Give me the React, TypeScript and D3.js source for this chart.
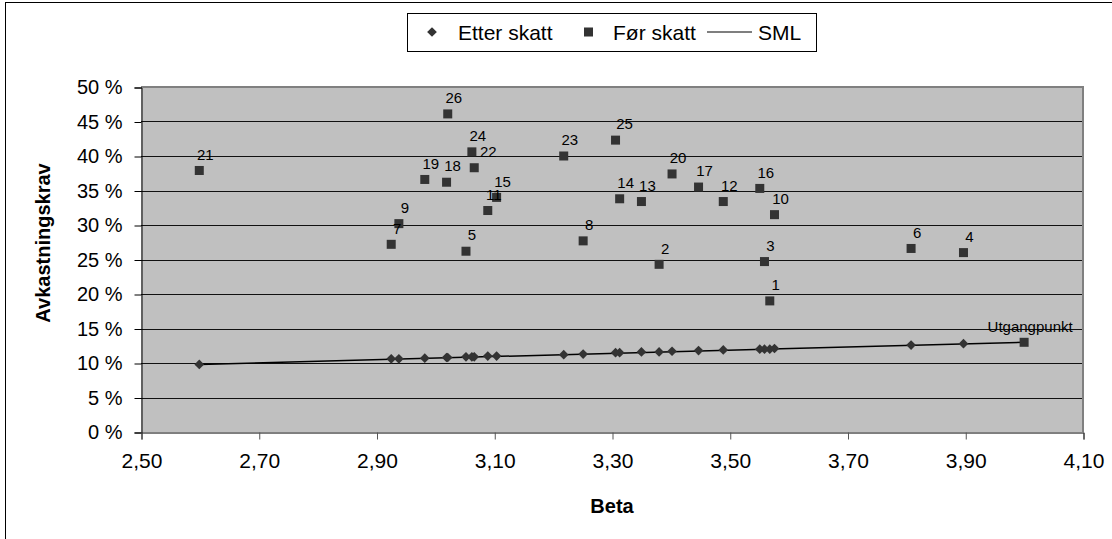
import React, { useEffect, useRef } from "react";
import * as d3 from "d3";

// one entry per project, numbered 1..26
const ids = [
  "1", "2", "3", "4", "5", "6", "7", "8", "9", "10", "11", "12", "13",
  "14", "15", "16", "17", "18", "19", "20", "21", "22", "23", "24", "25", "26",
];
const betas = [
  3.568, 3.38, 3.559, 3.897, 3.052, 3.808, 2.925, 3.251, 2.938, 3.576, 3.089, 3.489, 3.35,
  3.313, 3.104, 3.551, 3.447, 3.019, 2.982, 3.402, 2.599, 3.066, 3.218, 3.062, 3.306, 3.021,
];
const forSkatt = [
  19.0, 24.3, 24.7, 26.0, 26.2, 26.6, 27.2, 27.7, 30.2, 31.5, 32.1, 33.4, 33.4,
  33.8, 34.0, 35.3, 35.5, 36.2, 36.6, 37.4, 37.9, 38.3, 40.0, 40.6, 42.3, 46.1,
];
const etterSkatt = [
  12.0, 11.6, 12.0, 12.8, 10.9, 12.6, 10.6, 11.3, 10.6, 12.1, 11.0, 11.9, 11.6,
  11.5, 11.0, 12.0, 11.8, 10.8, 10.7, 11.7, 9.8, 10.9, 11.2, 10.9, 11.5, 10.8,
];

// starting point, shown as a "Før skatt" square
const startLabel = "Utgangpunkt";
const startBeta = 4.0;
const startValue = 13.0;

// SML endpoints
const smlBeta = [2.6, 4.0];
const smlValue = [9.8, 13.0];

const xTicks = [2.5, 2.7, 2.9, 3.1, 3.3, 3.5, 3.7, 3.9, 4.1];
const yTicks = [0, 5, 10, 15, 20, 25, 30, 35, 40, 45, 50];

export default function App() {
  const svgRef = useRef<SVGSVGElement>(null);

  useEffect(() => {
    const svg = d3.select(svgRef.current);
    svg.selectAll("*").remove();

    const width = 1112, height = 539;
    const left = 141, right = 1083, top = 87, bottom = 432;
    const font = "'Liberation Sans', Arial, sans-serif";
    const ink = "#333333";
    // labels that Excel pushed aside to dodge a neighbour
    const nudge: Record<string, number> = { "22": 8, "25": 3 };

    svg.attr("width", width).attr("height", height);

    // chart area border
    svg.append("rect")
      .attr("x", 5.5).attr("y", 2.5)
      .attr("width", width + 20).attr("height", height + 20)
      .attr("fill", "white").attr("stroke", "black");

    const x = d3.scaleLinear().domain([2.5, 4.1]).range([left, right]);
    const y = d3.scaleLinear().domain([0, 50]).range([bottom, top]);

    svg.append("rect")
      .attr("x", left).attr("y", top)
      .attr("width", right - left).attr("height", bottom - top)
      .attr("fill", "#C0C0C0");

    // gridlines
    svg.append("g")
      .selectAll("line")
      .data(yTicks.filter(t => t > 0 && t < 50))
      .enter()
      .append("line")
      .attr("x1", left).attr("x2", right)
      .attr("y1", d => Math.round(y(d)) + 0.5)
      .attr("y2", d => Math.round(y(d)) + 0.5)
      .attr("stroke", "#111");

    // top and right border
    svg.append("path")
      .attr("d", `M${left},${top} H${right} V${bottom}`)
      .attr("fill", "none").attr("stroke", "#808080").attr("stroke-width", 2);

    // y axis
    const yAxis = d3.axisLeft(y)
      .tickValues(yTicks)
      .tickSize(7)
      .tickPadding(12)
      .tickFormat(d => `${d} %`);
    const gy = svg.append("g")
      .attr("transform", `translate(${left + 0.5},0.5)`)
      .call(yAxis);
    gy.select(".domain").attr("stroke", "black");
    gy.selectAll(".tick line").attr("stroke", "black");
    gy.selectAll("text")
      .attr("font-family", font).attr("font-size", 20).attr("fill", "black");

    // x axis
    const xAxis = d3.axisBottom(x)
      .tickValues(xTicks)
      .tickSize(7)
      .tickPadding(14)
      .tickFormat(d => d3.format(".2f")(d as number).replace(".", ","));
    const gx = svg.append("g")
      .attr("transform", `translate(0.5,${bottom + 0.5})`)
      .call(xAxis);
    gx.select(".domain").attr("stroke", "black");
    gx.selectAll(".tick line").attr("stroke", "#555");
    gx.selectAll("text")
      .attr("font-family", font).attr("font-size", 21).attr("fill", "black");

    // axis titles
    svg.append("text")
      .attr("transform", `translate(50,243) rotate(-90)`)
      .attr("text-anchor", "middle")
      .attr("font-family", font).attr("font-size", 20).attr("font-weight", "bold")
      .text("Avkastningskrav");
    svg.append("text")
      .attr("x", (left + right) / 2).attr("y", 513)
      .attr("text-anchor", "middle")
      .attr("font-family", font).attr("font-size", 20).attr("font-weight", "bold")
      .text("Beta");

    // SML line
    svg.append("path")
      .attr("d", d3.line()(smlBeta.map((b, i) => [x(b), y(smlValue[i])])))
      .attr("fill", "none").attr("stroke", "black").attr("stroke-width", 1.5);

    const diamond = d3.symbol().type(d3.symbolDiamond2).size(60);

    // Etter skatt
    svg.append("g")
      .selectAll("path")
      .data(betas)
      .enter()
      .append("path")
      .attr("d", diamond)
      .attr("transform", (b, i) => `translate(${x(b)},${y(etterSkatt[i])})`)
      .attr("fill", ink);

    // Før skatt
    const sq = 9;
    const pts = betas.map((b, i) => ({ b, v: forSkatt[i], label: ids[i] }));
    pts.push({ b: startBeta, v: startValue, label: startLabel });
    svg.append("g")
      .selectAll("rect")
      .data(pts)
      .enter()
      .append("rect")
      .attr("x", d => x(d.b) - sq / 2)
      .attr("y", d => y(d.v) - sq / 2)
      .attr("width", sq).attr("height", sq)
      .attr("fill", ink);

    svg.append("g")
      .selectAll("text")
      .data(pts)
      .enter()
      .append("text")
      .attr("x", d => x(d.b) + 6 + (nudge[d.label] || 0))
      .attr("y", d => y(d.v) - 16)
      .attr("dy", "0.35em")
      .attr("text-anchor", "middle")
      .attr("font-family", font).attr("font-size", 15).attr("fill", "black")
      .text(d => d.label);

    // legend
    const lg = svg.append("g");
    lg.append("rect")
      .attr("x", 407.5).attr("y", 13.5)
      .attr("width", 409).attr("height", 38)
      .attr("fill", "white").attr("stroke", "black");
    lg.append("path")
      .attr("d", diamond)
      .attr("transform", "translate(432,32)")
      .attr("fill", ink);
    lg.append("rect")
      .attr("x", 584).attr("y", 27.5).attr("width", sq).attr("height", sq)
      .attr("fill", ink);
    lg.append("line")
      .attr("x1", 707).attr("x2", 752).attr("y1", 32).attr("y2", 32)
      .attr("stroke", "black").attr("stroke-width", 1.2);
    const legendText = [
      { tx: 458, s: "Etter skatt" },
      { tx: 613, s: "Før skatt" },
      { tx: 758, s: "SML" },
    ];
    lg.selectAll("text.lt")
      .data(legendText)
      .enter()
      .append("text")
      .attr("class", "lt")
      .attr("x", d => d.tx).attr("y", 39.5)
      .attr("font-family", font).attr("font-size", 21).attr("fill", "black")
      .text(d => d.s);
  }, []);

  return (
    <svg ref={svgRef} style={{ position: "absolute", left: 0, top: 0 }}></svg>
  );
}
